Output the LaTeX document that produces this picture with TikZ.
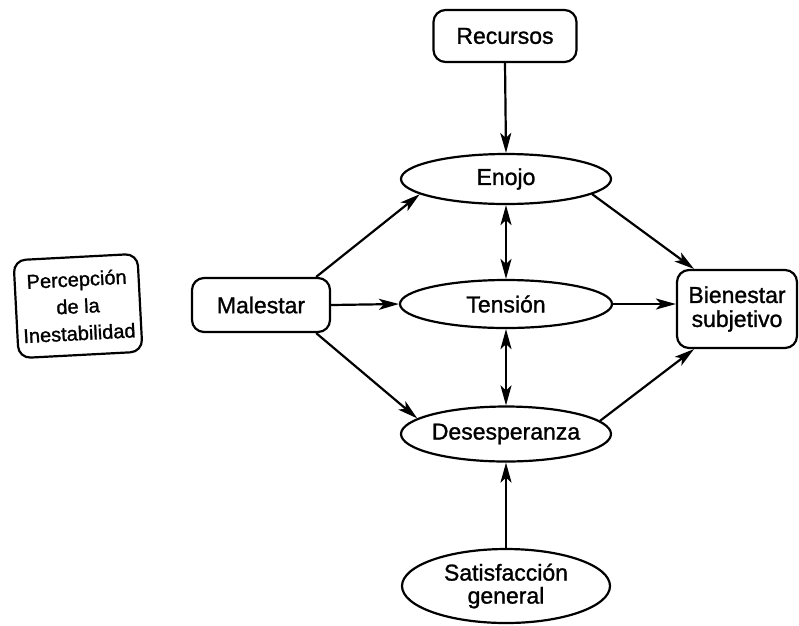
\documentclass[tikz,border=0pt]{standalone}
\usepackage{fontspec}
\setmainfont{Liberation Sans}[FakeBold=1.2]
\usetikzlibrary{arrows.meta,shapes.geometric,calc}
\begin{document}
\begin{tikzpicture}[x=1pt,y=-1pt,
  line width=2.2pt,
  box/.style={draw,rounded corners=12pt,inner sep=0pt,align=center,font=\fontsize{23}{24}\selectfont},
  oval/.style={draw,ellipse,inner sep=0pt,align=center,font=\fontsize{23}{23}\selectfont},
  tip/.tip={Stealth[length=20pt,width=11pt,inset=5pt]},
  arr/.style={-tip},
  darr/.style={tip-tip}
]
\useasboundingbox (0,0) rectangle (799,625);
\node[box,minimum width=143pt,minimum height=52pt] (rec) at (505,36) {Recursos};
\node[box,minimum width=138pt,minimum height=54pt] (mal) at (261,305) {Malestar};
\node[box,minimum width=120pt,minimum height=78pt] (bien) at (737,309) {Bienestar\\subjetivo};
\node[box,minimum width=124pt,minimum height=98pt,rotate=3,font=\fontsize{20}{27}\selectfont] (perc) at (78,306) {Percepción\\de la\\Inestabilidad};
\node[oval,minimum width=210pt,minimum height=50pt] (enojo) at (506,179) {Enojo};
\node[oval,minimum width=212pt,minimum height=48pt] (tens) at (506,304) {Tensión};
\node[oval,minimum width=210pt,minimum height=55pt] (des) at (506,434) {Desesperanza};
\node[oval,minimum width=208pt,minimum height=74pt] (sat) at (506,586) {Satisfacción\\general};
\draw[arr] (rec.south) -- (enojo.north);
\draw[arr] (mal.27) -- (enojo.190);
\draw[arr] (mal.east) -- (tens.west);
\draw[arr] (mal.-27) -- (des.170);
\draw[darr] (enojo.south) -- (tens.north);
\draw[darr] (tens.south) -- (des.north);
\draw[arr] (enojo.-10) -- (bien.137);
\draw[arr] (tens.east) -- (tens.east -| bien.west);
\draw[arr] (des.8) -- (bien.-137);
\draw[arr] (sat.north) -- (des.south);
\end{tikzpicture}
\end{document}
